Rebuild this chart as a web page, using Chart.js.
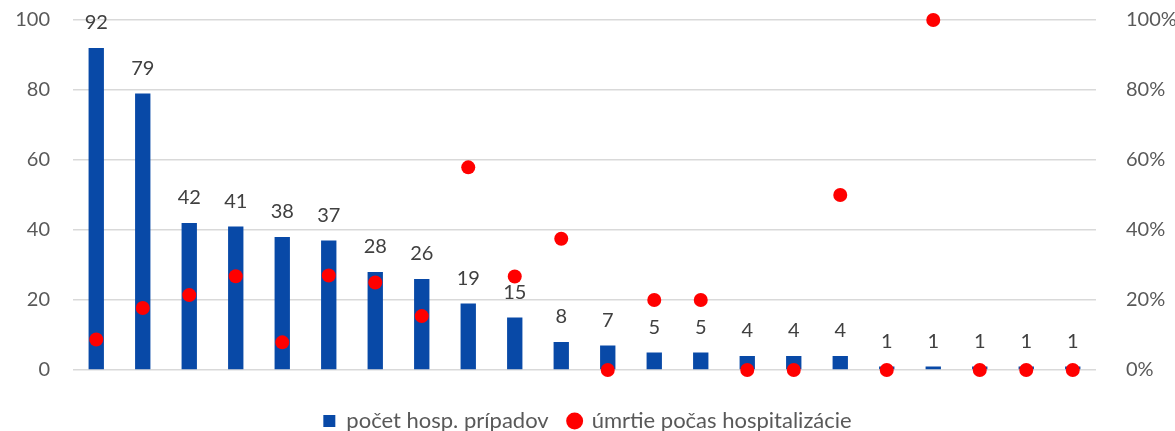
<!DOCTYPE html>
<html>
<head>
<meta charset="utf-8">
<script src="https://cdn.jsdelivr.net/npm/chart.js@4"></script>
<style>
  html, body { margin: 0; padding: 0; background: #fff; }
  #wrap { width: 1175px; height: 431px; }
</style>
</head>
<body>
<div id="wrap"><canvas id="chart" width="1175" height="431"></canvas></div>
<script>
// 22 categories, unlabeled on the x axis
var categories = ['', '', '', '', '', '', '', '', '', '', '', '', '', '', '', '', '', '', '', '', '', ''];

// number of hospital cases per category
var pocetPripadov = [92, 79, 42, 41, 38, 37, 28, 26, 19, 15, 8, 7, 5, 5, 4, 4, 4, 1, 1, 1, 1, 1];

// share of deaths during hospitalization (%)
var umrtnost = [8.7, 17.7, 21.4, 26.8, 7.9, 27.0, 25.0, 15.4, 57.9, 26.7, 37.5, 0, 20, 20, 0, 0, 50, 0, 100, 0, 0, 0];

var leftTicks = [0, 20, 40, 60, 80, 100];
var rightTicks = [0, 20, 40, 60, 80, 100];

var FONT = 'Lato, "Open Sans", sans-serif';
var BLUE = '#0849A7';
var RED = '#FF0000';

// value labels above each bar
var barLabels = {
    id: 'barLabels',
    afterDatasetsDraw: function (chart) {
        var ctx = chart.ctx;
        var meta = chart.getDatasetMeta(0);
        ctx.save();
        ctx.font = '20px ' + FONT;
        ctx.fillStyle = '#404040';
        ctx.textAlign = 'center';
        ctx.textBaseline = 'middle';
        meta.data.forEach(function (bar, i) {
            ctx.fillText(String(pocetPripadov[i]), bar.x, bar.y - 25);
        });
        ctx.restore();
    }
};

// fixed axis sizes, no extra padding for the end labels
function fixWidth(w) {
    return function (s) {
        s.width = w;
        s.paddingTop = 0;
        s.paddingBottom = 0;
    };
}

var ctx = document.getElementById('chart').getContext('2d');
var chart = new Chart(ctx, {
    type: 'bar',
    data: {
        labels: categories,
        datasets: [{
            label: 'počet hosp. prípadov',
            data: pocetPripadov,
            backgroundColor: BLUE,
            barPercentage: 0.33,
            categoryPercentage: 1,
            yAxisID: 'y',
            order: 2
        }, {
            type: 'line',
            label: 'úmrtie počas hospitalizácie',
            data: umrtnost,
            showLine: false,
            pointRadius: 7,
            pointHoverRadius: 7,
            pointBackgroundColor: RED,
            pointBorderWidth: 0,
            backgroundColor: RED,
            borderColor: RED,
            yAxisID: 'y1',
            clip: false,
            order: 1
        }]
    },
    options: {
        responsive: false,
        animation: false,
        layout: { padding: { top: 20, left: 0, right: 0, bottom: -11 } },
        plugins: {
            tooltip: { enabled: false },
            legend: {
                position: 'bottom',
                labels: {
                    font: { family: FONT, size: 22 },
                    color: '#595959',
                    usePointStyle: true,
                    boxWidth: 12,
                    boxHeight: 12,
                    padding: 20,
                    generateLabels: function (c) {
                        var items = Chart.defaults.plugins.legend.labels.generateLabels(c);
                        items.forEach(function (it) {
                            it.lineWidth = 0;
                            if (it.datasetIndex === 0) {
                                it.pointStyle = 'rect';
                                it.fillStyle = BLUE;
                            } else {
                                it.pointStyle = 'circle';
                                it.fillStyle = RED;
                            }
                        });
                        return items.sort(function (a, b) { return a.datasetIndex - b.datasetIndex; });
                    }
                }
            }
        },
        scales: {
            x: {
                grid: { display: false },
                border: { display: false },
                ticks: { display: false },
                afterFit: function (s) { s.height = 20; }
            },
            y: {
                position: 'left',
                min: 0,
                max: 100,
                afterBuildTicks: function (s) { s.ticks = leftTicks.map(function (v) { return { value: v }; }); },
                grid: { color: '#D9D9D9', lineWidth: 1.5, drawTicks: false },
                border: { display: false },
                ticks: {
                    font: { family: FONT, size: 20 },
                    color: '#595959',
                    padding: 23
                },
                afterFit: fixWidth(73)
            },
            y1: {
                position: 'right',
                min: 0,
                max: 100,
                afterBuildTicks: function (s) { s.ticks = rightTicks.map(function (v) { return { value: v }; }); },
                grid: { display: false },
                border: { display: false },
                ticks: {
                    font: { family: FONT, size: 20 },
                    color: '#595959',
                    padding: 22,
                    callback: function (v) { return v + '%'; }
                },
                afterFit: fixWidth(79)
            }
        }
    },
    plugins: [barLabels]
});
</script>
</body>
</html>
